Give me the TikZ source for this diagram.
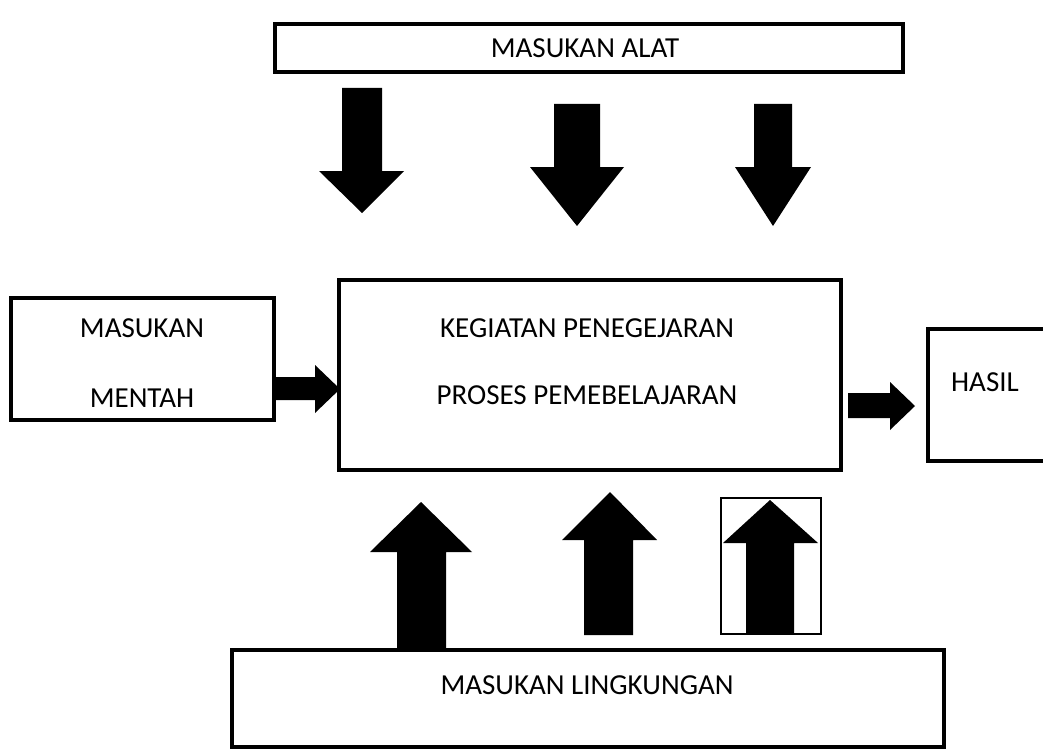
\documentclass[tikz,border=0pt]{standalone}
\usepackage{fontspec}
\setmainfont{Carlito}
\newcommand\myvarrow[8]{% shaftL shaftR shaftEnd base headL headR tipx tipy
  \fill[black] (#1,#3) -- (#1,#4) -- (#5,#4) -- (#7,#8) -- (#6,#4) -- (#2,#4) -- (#2,#3) -- cycle;}
\newcommand\myharrow[8]{% shaftT shaftB shaftStart base headT headB tipx tipy
  \fill[black] (#3,#1) -- (#4,#1) -- (#4,#5) -- (#7,#8) -- (#4,#6) -- (#4,#2) -- (#3,#2) -- cycle;}
\begin{document}
\begin{tikzpicture}[x=1pt,y=-1pt,
  boxline/.style={draw=black,line width=4.5pt},
  lbl/.style={font=\fontsize{29}{34}\selectfont,inner sep=0pt,anchor=center}]
\useasboundingbox (0,0) rectangle (1043,749);
\clip (0,0) rectangle (1043,749);
% boxes
\draw[boxline] (275,24) rectangle (903,72);
\draw[boxline] (339,280) rectangle (841,470);
\draw[boxline] (11,298) rectangle (274,420);
\draw[boxline,line width=4pt] (928,329) rectangle (1070,461);
\draw[boxline] (232,650) rectangle (944,747);
% labels
\node[lbl] (alat) at (585,48) {MASUKAN ALAT};
\node[lbl] (m1) at (142,328) {MASUKAN};
\node[lbl] (m2) at (142,398) {MENTAH};
\node[lbl] (k1) at (587,328) {KEGIATAN PENEGEJARAN};
\node[lbl] (k2) at (587,395) {PROSES PEMEBELAJARAN};
\node[lbl] (hasil) at (985,382) {HASIL};
\node[lbl] (ling) at (587,685) {MASUKAN LINGKUNGAN};
% down arrows
\myvarrow{342}{382}{88}{171}{319}{404}{362}{213}
\myvarrow{554}{600}{104}{167}{530}{624}{577}{226}
\myvarrow{754}{792}{104}{167}{735}{811}{773}{226}
% right arrows
\myharrow{377}{400}{276}{315}{365}{413}{340}{389}
\myharrow{393}{418}{848}{890}{382}{430}{915}{406}
% up arrows
\myvarrow{397}{446}{648}{552}{370}{472}{421}{502}
\myvarrow{584}{633}{635}{540}{562}{657}{610}{492}
\draw[black,line width=1.5pt] (721,498) rectangle (821,634);
\myvarrow{746}{794}{633}{543}{723}{818}{770}{500}
\end{tikzpicture}
\end{document}
